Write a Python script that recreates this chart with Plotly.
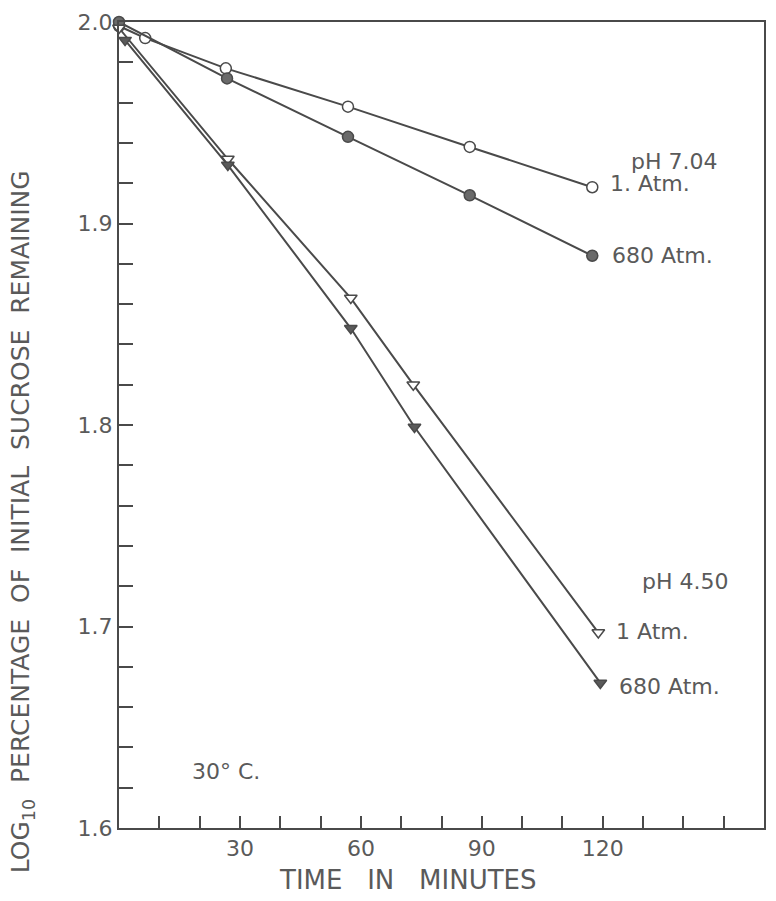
import plotly.graph_objects as go

# pH 7.04, 1 Atm (open circles)
t_704_1 = [0, 6.5, 26.5, 56.8, 87, 117.4]
y_704_1 = [1.998, 1.992, 1.977, 1.958, 1.938, 1.918]
# pH 7.04, 680 Atm (filled circles)
t_704_680 = [0, 26.8, 56.8, 87, 117.4]
y_704_680 = [2.0, 1.972, 1.943, 1.914, 1.884]
# pH 4.50, 1 Atm (open triangles)
t_450_1 = [0, 27, 57.5, 73, 118.9]
y_450_1 = [1.997, 1.932, 1.863, 1.820, 1.697]
# pH 4.50, 680 Atm (filled triangles)
t_450_680 = [1.5, 27, 57.5, 73.3, 119.4]
y_450_680 = [1.991, 1.929, 1.848, 1.799, 1.672]

x_tickvals = [30, 60, 90, 120]
x_ticktext = ["30", "60", "90", "120"]
y_tickvals = [1.6, 1.7, 1.8, 1.9, 2.0]
y_ticktext = ["1.6", "1.7", "1.8", "1.9", "2.0"]

INK = "#4a4a4a"
TXT = "#5a5a5a"
FONT = "DejaVu Sans"

fig = go.Figure()

def add(t, y, symbol, fill):
    fig.add_trace(go.Scatter(
        x=t, y=y, mode="lines+markers",
        line=dict(color=INK, width=2),
        marker=dict(symbol=symbol, size=11, color=fill,
                    line=dict(color=INK, width=1.5)),
        showlegend=False, cliponaxis=False))

add(t_704_1, y_704_1, "circle", "white")
add(t_704_680, y_704_680, "circle", "#6a6a6a")
add(t_450_1, y_450_1, "triangle-down", "white")
add(t_450_680, y_450_680, "triangle-down", "#5a5a5a")

fig.update_xaxes(
    range=[0, 160], showline=True, linecolor=INK, linewidth=2, mirror=True,
    ticks="inside", ticklen=12, tickwidth=1.5, tickcolor=INK,
    tickvals=x_tickvals, ticktext=x_ticktext, automargin=False,
    minor=dict(tick0=0, dtick=10, ticks="inside", ticklen=12, tickwidth=1.5,
               tickcolor=INK, showgrid=False),
    showgrid=False, zeroline=False,
    tickfont=dict(family=FONT, size=22, color=TXT))
fig.update_yaxes(
    range=[1.6, 2.0], showline=True, linecolor=INK, linewidth=2, mirror=True,
    ticks="inside", ticklen=14, tickwidth=1.5, tickcolor=INK,
    tickvals=y_tickvals, ticktext=y_ticktext, automargin=False,
    minor=dict(tick0=1.6, dtick=0.02, ticks="inside", ticklen=14, tickwidth=1.5,
               tickcolor=INK, showgrid=False),
    showgrid=False, zeroline=False,
    tickfont=dict(family=FONT, size=22, color=TXT))

ann = [
    ("pH 7.04", 126.4, 1.931),
    ("1. Atm.", 121.3, 1.920),
    ("680 Atm.", 121.8, 1.884),
    ("pH 4.50", 129.3, 1.7224),
    ("1 Atm.", 122.8, 1.6975),
    ("680 Atm.", 123.6, 1.670),
    ("30° C.", 17.6, 1.628),
]
for txt, x, y in ann:
    fig.add_annotation(x=x, y=y, text=txt, showarrow=False, xanchor="left",
                       yanchor="middle",
                       font=dict(family=FONT, size=22, color=TXT))

fig.add_annotation(
    xref="paper", yref="paper", x=0.448, y=-0.0645,
    text="TIME\u00a0\u00a0 IN\u00a0\u00a0 MINUTES", showarrow=False,
    xanchor="center", yanchor="middle",
    font=dict(family=FONT, size=26, color=TXT))

fig.add_annotation(
    xref="paper", yref="paper", x=-0.150, y=(828 - 522) / 806,
    text="LOG<sub>10</sub>\u00a0 PERCENTAGE\u00a0 OF\u00a0 INITIAL\u00a0 SUCROSE\u00a0 REMAINING",
    textangle=-90, showarrow=False, xanchor="center", yanchor="middle",
    font=dict(family=FONT, size=25, color=TXT))

fig.update_layout(
    width=776, height=901,
    margin=dict(l=111, r=20, t=14, b=81, autoexpand=False),
    paper_bgcolor="white", plot_bgcolor="white",
)

fig.write_html("out.html")
